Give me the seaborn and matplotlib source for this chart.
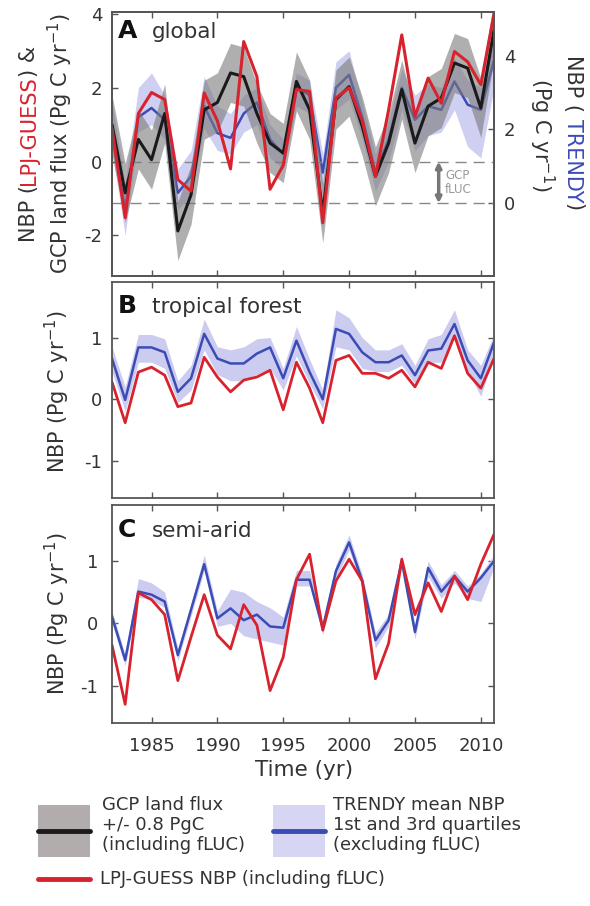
import numpy as np
import pandas as pd
import matplotlib.pyplot as plt
import seaborn as sns
from matplotlib.patches import Rectangle, FancyArrowPatch

sns.set_theme(style="white")
plt.rcParams['font.family'] = ['DejaVu Sans']
plt.rcParams['mathtext.default'] = 'regular'
plt.rcParams['axes.unicode_minus'] = False

years = list(range(1982, 2012))

# A : global (Pg C / yr)
gcp_global = [1.0, -0.85, 0.6, 0.05, 1.3, -1.88, -0.9, 1.4, 1.6, 2.4,
              2.3, 1.3, 0.5, 0.23, 2.17, 1.4, -1.4, 1.68, 2.03, 0.95,
              -0.4, 0.5, 1.95, 0.5, 1.5, 1.72, 2.67, 2.53, 1.45, 3.57]
gcp_err = 0.8
lpj_global = [0.9, -1.52, 1.3, 1.87, 1.68, -0.49, -0.8, 1.86, 1.1, -0.2,
              3.25, 2.3, -0.75, -0.1, 1.95, 1.9, -1.66, 1.72, 2.0, 1.1,
              -0.4, 1.4, 3.43, 1.22, 2.26, 1.58, 2.98, 2.7, 2.08, 4.0]
# TRENDY on the right axis (excluding fLUC)
trendy_global = [1.83, -0.17, 2.33, 2.58, 2.26, 0.28, 0.73, 2.63, 1.9, 1.77,
                 2.43, 2.73, 1.73, 1.33, 3.13, 2.93, 0.83, 3.13, 3.48, 2.33,
                 0.83, 1.73, 3.13, 2.26, 2.63, 2.53, 3.3, 2.67, 2.53, 3.88]
trendy_global_q1 = [1.43, -0.87, 1.93, 2.13, 1.73, -0.17, 0.23, 2.03, 1.43, 1.33,
                    1.93, 2.13, 1.23, 0.93, 2.63, 2.43, 0.23, 2.53, 2.83, 1.73,
                    0.33, 1.13, 2.53, 1.43, 1.83, 1.93, 2.53, 1.53, 1.23, 3.13]
trendy_global_q3 = [2.73, 0.53, 3.13, 3.53, 2.93, 0.93, 1.43, 3.43, 2.63, 2.43,
                    2.93, 3.13, 2.13, 1.73, 3.53, 3.33, 1.33, 3.83, 4.13, 2.73,
                    1.33, 2.23, 3.63, 2.93, 3.23, 3.13, 3.93, 3.33, 3.13, 4.73]
gcp_fluc = 1.13

# B : tropical forest
lpj_trop = [0.28, -0.38, 0.44, 0.52, 0.39, -0.12, -0.06, 0.68, 0.36, 0.12,
            0.31, 0.36, 0.47, -0.17, 0.6, 0.18, -0.38, 0.63, 0.71, 0.42,
            0.42, 0.34, 0.47, 0.2, 0.6, 0.5, 1.03, 0.42, 0.18, 0.66]
trendy_trop = [0.66, -0.01, 0.84, 0.84, 0.76, 0.12, 0.34, 1.06, 0.66, 0.58,
               0.58, 0.74, 0.84, 0.34, 0.95, 0.44, 0.0, 1.14, 1.06, 0.76,
               0.6, 0.6, 0.71, 0.39, 0.79, 0.82, 1.22, 0.63, 0.34, 0.92]
trendy_trop_q1 = [0.45, -0.2, 0.6, 0.6, 0.5, -0.05, 0.15, 0.8, 0.4, 0.3,
                  0.3, 0.4, 0.5, 0.15, 0.7, 0.25, -0.15, 0.85, 0.8, 0.5,
                  0.45, 0.45, 0.55, 0.25, 0.6, 0.6, 1.0, 0.45, 0.05, 0.7]
trendy_trop_q3 = [0.85, 0.2, 1.05, 1.05, 0.98, 0.3, 0.55, 1.3, 0.85, 0.8,
                  0.85, 0.98, 1.0, 0.5, 1.18, 0.65, 0.15, 1.45, 1.32, 1.0,
                  0.8, 0.8, 0.9, 0.55, 0.98, 1.05, 1.45, 0.8, 0.55, 1.05]

# C : semi-arid
lpj_semi = [-0.35, -1.3, 0.49, 0.38, 0.14, -0.92, -0.22, 0.46, -0.19, -0.41,
            0.3, -0.03, -1.08, -0.54, 0.7, 1.11, -0.11, 0.68, 1.03, 0.68,
            -0.89, -0.32, 1.03, 0.14, 0.65, 0.19, 0.76, 0.38, 0.95, 1.43]
trendy_semi = [0.11, -0.59, 0.51, 0.46, 0.35, -0.51, 0.22, 0.95, 0.08, 0.24,
               0.05, 0.14, -0.05, -0.07, 0.7, 0.7, -0.08, 0.84, 1.3, 0.68,
               -0.27, 0.05, 1.0, -0.14, 0.89, 0.51, 0.76, 0.51, 0.73, 1.0]
trendy_semi_q1 = [0.0, -0.68, 0.42, 0.38, 0.25, -0.6, 0.12, 0.85, -0.05, 0.0,
                  -0.2, -0.25, -0.3, -0.35, 0.6, 0.6, -0.18, 0.72, 1.18, 0.58,
                  -0.4, -0.05, 0.9, -0.25, 0.75, 0.4, 0.65, 0.4, 0.35, 0.9]
trendy_semi_q3 = [0.2, -0.5, 0.72, 0.65, 0.5, -0.4, 0.32, 1.1, 0.2, 0.55,
                  0.5, 0.35, 0.25, 0.1, 0.85, 0.85, 0.02, 0.95, 1.42, 0.78,
                  -0.15, 0.15, 1.1, -0.02, 1.0, 0.62, 0.85, 0.6, 0.8, 1.1]

year_ticks = [1985, 1990, 1995, 2000, 2005, 2010]

RED = '#d8232e'
BLUE = '#3c4cb6'
BAND_BLUE = '#c3c3ee'
GRAY = '#7a7a7a'
TXT = '#333333'

W, H = 590, 906
fig = plt.figure(figsize=(W / 100, H / 100), dpi=100)


def box(x0, y0, x1, y1):
    return [x0 / W, 1 - y1 / H, (x1 - x0) / W, (y1 - y0) / H]


axA = fig.add_axes(box(112, 12, 494, 276))
axB = fig.add_axes(box(112, 282, 494, 498))
axC = fig.add_axes(box(112, 505, 494, 723))
over = fig.add_axes([0, 0, 1, 1], zorder=10)
over.set_xlim(0, W)
over.set_ylim(H, 0)
over.axis('off')


def style(ax, right=True):
    ax.set_xlim(1982, 2011)
    ax.set_xticks(year_ticks)
    ax.tick_params(direction='in', length=4, width=1, top=True, bottom=True,
                   left=True, right=right, labelsize=13, labelcolor=TXT,
                   color='#555555', pad=7)
    for s in ax.spines.values():
        s.set_color('#555555')
        s.set_linewidth(1.3)
    ax.set_xlabel('')
    ax.set_ylabel('')


# ---- A global
df_a = pd.DataFrame({'year': years, 'gcp': gcp_global, 'lpj': lpj_global,
                     'trendy': trendy_global})
axT = axA.twinx()
axA.set_zorder(axT.get_zorder() + 1)
axA.patch.set_visible(False)

axT.fill_between(years, trendy_global_q1, trendy_global_q3, color=BAND_BLUE, lw=0, alpha=0.8)
sns.lineplot(data=df_a, x='year', y='trendy', ax=axT, color=BLUE, lw=1.8)
gcp = np.array(gcp_global)
axA.fill_between(years, gcp - gcp_err, gcp + gcp_err, color=GRAY, alpha=0.6, lw=0)
sns.lineplot(data=df_a, x='year', y='gcp', ax=axA, color='#1a1a1a', lw=2.2)
sns.lineplot(data=df_a, x='year', y='lpj', ax=axA, color=RED, lw=2.2)

axA.axhline(0, color='#888888', lw=1, ls=(0, (8, 5)), zorder=0)
axA.axhline(-gcp_fluc, color='#888888', lw=1, ls=(0, (8, 5)), zorder=0)
arr = FancyArrowPatch((2006.8, 0), (2006.8, -gcp_fluc), arrowstyle='<|-|>',
                      mutation_scale=8, color='#777777', lw=2.5, shrinkA=0, shrinkB=0)
axA.add_patch(arr)
axA.text(2007.3, -0.56, 'GCP\nfLUC', fontsize=8.5, color='#9a9a9a', va='center',
         ha='left', linespacing=1.1)

axA.set_ylim(-3.1, 4.05)
axT.set_ylim(-3.1 + gcp_fluc, 4.05 + gcp_fluc)
axA.set_yticks([-2, 0, 2, 4])
axT.set_yticks([0, 2, 4])
style(axA, right=False)
axA.tick_params(labelbottom=False)
axT.tick_params(direction='in', length=4, width=1, right=True, labelsize=13,
                labelcolor=TXT, color='#555555', pad=7)
axT.set_ylabel('')
for s in axT.spines.values():
    s.set_color('#555555')
    s.set_linewidth(1.3)


# ---- B and C
def region(ax, lpj, tr, q1, q3):
    d = pd.DataFrame({'year': years, 'lpj': lpj, 'trendy': tr})
    ax.fill_between(years, q1, q3, color=BAND_BLUE, lw=0, alpha=0.85)
    sns.lineplot(data=d, x='year', y='trendy', ax=ax, color=BLUE, lw=1.8)
    sns.lineplot(data=d, x='year', y='lpj', ax=ax, color=RED, lw=2.0)
    ax.set_ylim(-1.6, 1.9)
    ax.set_yticks([-1, 0, 1])
    style(ax)


region(axB, lpj_trop, trendy_trop, trendy_trop_q1, trendy_trop_q3)
axB.tick_params(labelbottom=False)
region(axC, lpj_semi, trendy_semi, trendy_semi_q1, trendy_semi_q3)
axC.tick_params(pad=10)

# panel labels
for ax, letter, name, yb in [(axA, 'A', 'global', 0.90), (axB, 'B', 'tropical forest', 0.857),
                             (axC, 'C', 'semi-arid', 0.853)]:
    ax.text(0.016, yb, letter, transform=ax.transAxes, fontsize=18, fontweight='bold',
            color='#111111', va='baseline', ha='left')
    ax.text(0.105, yb, name, transform=ax.transAxes, fontsize=15.5, color=TXT,
            va='baseline', ha='left')

# multi-colour rotated labels, placed in pixel coordinates
renderer = fig.canvas.get_renderer()


def rot_label(x, yc, parts, rot, size=15):
    widths = []
    for s, c in parts:
        t = over.text(0, 0, s, fontsize=size)
        widths.append(t.get_window_extent(renderer).width)
        t.remove()
    total = sum(widths)
    if rot == 90:
        pos, step = yc + total / 2, -1
    else:
        pos, step = yc - total / 2, 1
    for (s, c), w in zip(parts, widths):
        over.text(x, pos, s, color=c, fontsize=size, rotation=rot,
                  rotation_mode='anchor', ha='left', va='center')
        pos += step * w


rot_label(29, 144, [('NBP (', TXT), ('LPJ-GUESS', RED), (') &', TXT)], 90)
rot_label(60, 144, [('GCP land flux (Pg C yr$^{-1}$)', TXT)], 90)
rot_label(573, 133, [('NBP ( ', TXT), ('TRENDY', BLUE), (')', TXT)], 270)
rot_label(542, 135, [('(Pg C yr$^{-1}$)', TXT)], 270)
rot_label(57, 392, [('NBP (Pg C yr$^{-1}$)', TXT)], 90)
rot_label(57, 614, [('NBP (Pg C yr$^{-1}$)', TXT)], 90)

over.text(304, 770, 'Time (yr)', fontsize=15.5, color=TXT, ha='center', va='center')

# legend
over.add_patch(Rectangle((38, 805), 52, 52, color='#b3acac', lw=0))
over.plot([38, 90], [831, 831], color='#1a1a1a', lw=3.5)
over.text(102, 796, 'GCP land flux\n+/- 0.8 PgC\n(including fLUC)', fontsize=13,
          color=TXT, va='top', ha='left', linespacing=1.15)
over.add_patch(Rectangle((273, 805), 52, 52, color='#d6d6f4', lw=0))
over.plot([273, 325], [831, 831], color=BLUE, lw=3.5)
over.text(333, 796, 'TRENDY mean NBP\n1st and 3rd quartiles\n(excluding fLUC)', fontsize=13,
          color=TXT, va='top', ha='left', linespacing=1.15)
over.plot([38, 90], [879, 879], color=RED, lw=3.5)
over.text(100, 879, 'LPJ-GUESS NBP (including fLUC)', fontsize=13, color=TXT,
          va='center', ha='left')

fig.savefig('out.png', dpi=100)
